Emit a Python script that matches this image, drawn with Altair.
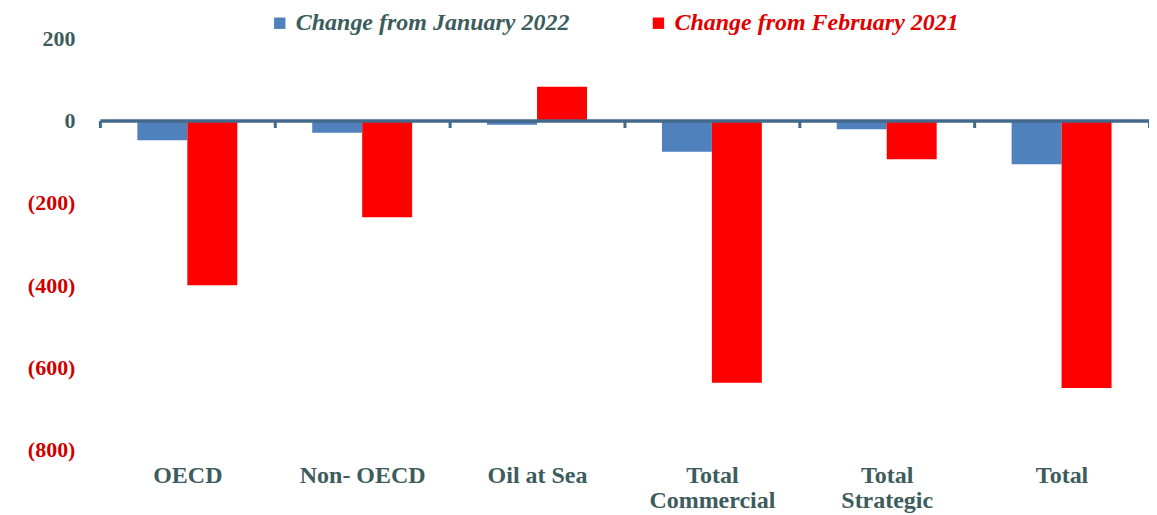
import altair as alt
import pandas as pd

categories = ["OECD", "Non- OECD", "Oil at Sea", "Total Commercial", "Total Strategic", "Total"]
series = ["Change from January 2022", "Change from February 2021"]
jan_values = [-48, -30, -10, -76, -21, -106]
feb_values = [-400, -235, 82, -637, -94, -650]
y_ticks = [200, 0, -200, -400, -600, -800]

rows = []
for c, v in zip(categories, jan_values):
    rows.append({"category": c, "series": series[0], "value": v})
for c, v in zip(categories, feb_values):
    rows.append({"category": c, "series": series[1], "value": v})
df = pd.DataFrame(rows)

text_color = "#3d5c5c"
neg_color = "#d00000"
axis_color = "#42698c"
blue = "#4f81bd"
red = "#ff0000"

chart = alt.Chart(df).mark_bar().encode(
    x=alt.X(
        "category:N",
        sort=categories,
        scale=alt.Scale(paddingInner=0, paddingOuter=0),
        axis=alt.Axis(
            title=None,
            labelAngle=0,
            orient="bottom",
            offset=-329.6,
            domainColor=axis_color,
            domainWidth=3.5,
            tickColor=axis_color,
            tickWidth=3,
            tickSize=7,
            tickBand="extent",
            labelPadding=336,
            labelFont="Liberation Serif",
            labelFontWeight="bold",
            labelFontSize=24,
            labelColor=text_color,
            labelLineHeight=25,
            labelExpr="indexof(datum.label, 'Total ') == 0 ? split(datum.label, ' ') : datum.label",
            zindex=1,
        ),
    ),
    xOffset=alt.XOffset("series:N", sort=series, scale=alt.Scale(paddingInner=0, paddingOuter=0.75)),
    y=alt.Y(
        "value:Q",
        scale=alt.Scale(domain=[-800, 200], nice=False, zero=False),
        axis=alt.Axis(
            title=None,
            values=y_ticks,
            grid=False,
            domain=False,
            ticks=False,
            labelPadding=25,
            labelFont="Liberation Serif",
            labelFontWeight="bold",
            labelFontSize=22,
            labelColor=alt.condition("datum.value < 0", alt.value(neg_color), alt.value(text_color)),
            labelExpr="datum.value < 0 ? '(' + (-datum.value) + ')' : datum.value + '\u00a0\u00a0'",
        ),
    ),
    color=alt.Color(
        "series:N",
        sort=series,
        scale=alt.Scale(domain=series, range=[blue, red]),
        legend=alt.Legend(
            title=None,
            orient="none",
            legendX=168,
            legendY=-27,
            direction="horizontal",
            symbolType="square",
            symbolSize=130,
            symbolStrokeWidth=0,
            labelFont="Liberation Serif",
            labelFontStyle="italic",
            labelFontWeight="bold",
            labelFontSize=24,
            labelColor={"expr": "datum.label == 'Change from February 2021' ? '#e00000' : '#3d5c5c'"},
            labelLimit=500,
            labelOffset=4,
            columnPadding=76,
        ),
    ),
).properties(
    width=1050,
    height=412,
    autosize=alt.AutoSizeParams(type="none"),
    padding={"left": 92, "top": 30, "right": 0, "bottom": 70},
    background="white",
).configure_view(stroke=None)

chart.save("out.html", embed_options={"renderer": "svg", "actions": False})
